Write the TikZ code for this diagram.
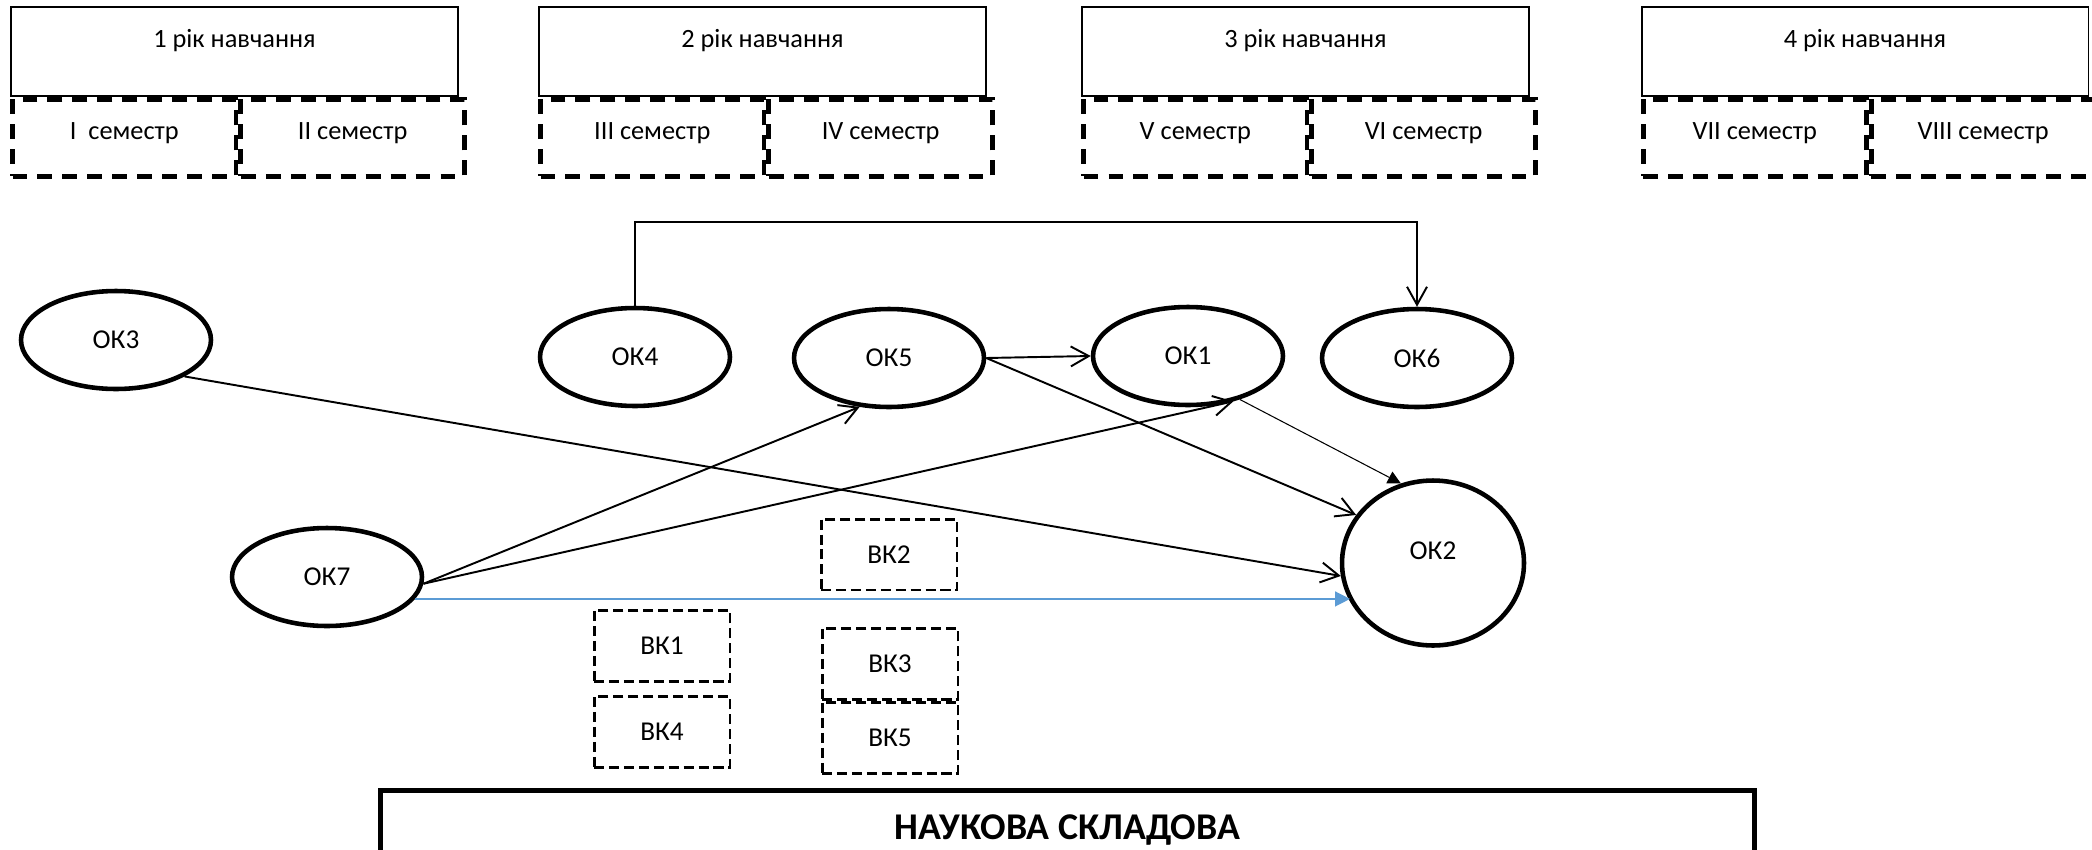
\documentclass[tikz,border=0pt]{standalone}
\usepackage{fontspec}
\setmainfont{Carlito}
\usetikzlibrary{arrows.meta, positioning, shapes.geometric}
\definecolor{linkblue}{RGB}{91,155,213}

\begin{document}
\begin{tikzpicture}[
      x=0.02cm, y=-0.02cm,
      >={Straight Barb[length=3.6mm, width=4mm]},
      font=\fontsize{15}{18}\selectfont,
      year/.style={draw, line width=1.1pt, minimum width=8.94cm, minimum height=1.78cm, inner sep=0pt, text depth=15pt},
      sem/.style={draw, dash pattern=on 8.5pt off 5.7pt, line width=2.8pt, minimum width=4.47cm, minimum height=1.54cm, inner sep=0pt, text depth=8pt},
      ok/.style={draw, ellipse, line width=2.6pt, minimum width=3.8cm, minimum height=1.96cm, inner sep=0pt, font=\fontsize{15.5}{18}\selectfont},
      vk/.style={draw, dash pattern=on 5.7pt off 2.8pt, line width=1.7pt, minimum width=2.72cm, minimum height=1.42cm, inner sep=0pt, font=\fontsize{15.5}{18}\selectfont},
      link/.style={->, line width=1.1pt},
      thinlink/.style={-{Triangle[length=2.6mm, width=2.6mm]}, line width=0.6pt},
      bluelink/.style={-{Triangle[length=3mm, width=3mm]}, line width=0.8pt, draw=linkblue, fill=linkblue},
      science/.style={draw, line width=2.8pt, minimum width=27.5cm, minimum height=1.6cm, anchor=north, font=\bfseries\fontsize{21.5}{24}\selectfont}
    ]
    \useasboundingbox (0,0) rectangle (2092,849);

    % years and semesters
    \node[year] (year1) at (234.5, 51.5) {1 рік навчання};
    \node[sem, anchor=north west] (sem1) at (year1.south west) {I\ \ семестр};
    \node[sem, right=0pt of sem1] (sem2) {II семестр};

    \node[year] (year2) at (762.5, 51.5) {2 рік навчання};
    \node[sem, anchor=north west] (sem3) at (year2.south west) {III семестр};
    \node[sem, right=0pt of sem3] (sem4) {IV семестр};

    \node[year] (year3) at (1305.5, 51.5) {3 рік навчання};
    \node[sem, anchor=north west] (sem5) at (year3.south west) {V семестр};
    \node[sem, right=0pt of sem5] (sem6) {VI семестр};

    \node[year] (year4) at (1865, 51.5) {4 рік навчання};
    \node[sem, anchor=north west] (sem7) at (year4.south west) {VII семестр};
    \node[sem, right=0pt of sem7] (sem8) {VIII семестр};

    % compulsory components
    \node[ok] (ok3) at (116, 340) {ОК3};
    \node[ok] (ok4) at (635, 357) {ОК4};
    \node[ok] (ok5) at (889, 358) {ОК5};
    \node[ok] (ok1) at (1188, 356) {ОК1};
    \node[ok] (ok6) at (1417, 358) {ОК6};
    \node[ok] (ok7) at (327, 577) {ОК7};
    \node[ok, minimum width=3.64cm, minimum height=3.3cm, text depth=14pt] (ok2) at (1433, 563) {ОК2};

    % elective components
    \node[vk] (vk2) at (889, 554.5) {ВК2};
    \node[vk] (vk1) at (662, 646) {ВК1};
    \node[vk, below=0.24cm of vk1] (vk4) {ВК4};
    \node[vk] (vk3) at (890, 664) {ВК3};
    \node[vk, below=0pt of vk3] (vk5) {ВК5};

    \node[science] (science) at (1067.5, 788) {НАУКОВА СКЛАДОВА};

    \draw[link] (ok4.north) -- ++(0,-84) -| (ok6.north);
    \draw[link] (ok5.east) -- (ok1.west);
    \draw[link] (ok5.east) -- (ok2.148);
    \draw[thinlink] (ok1.-40) -- (ok2.112);
    \draw[link] (ok3.-28) -- (ok2.188);
    \draw[link] (ok7.-4) -- (ok5.-121);
    \draw[link] (ok7.-4) -- (ok1.-45);
    \draw[bluelink] (ok7.-14) -- (ok7.-14 -| ok2.205);

  \end{tikzpicture}
\end{document}
